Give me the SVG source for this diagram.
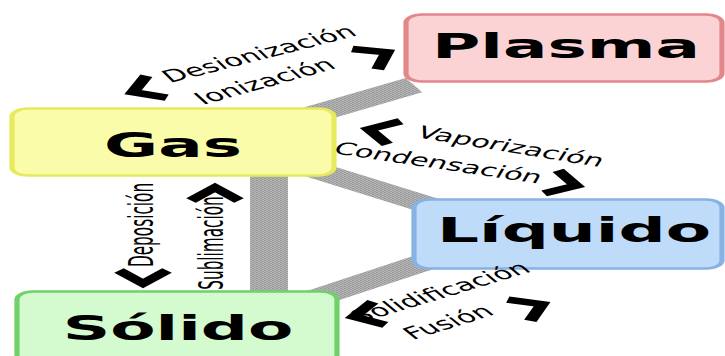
<svg xmlns="http://www.w3.org/2000/svg" xmlns:xlink="http://www.w3.org/1999/xlink" width="725" height="356" viewBox="0 0 725 356">
<style>
.node rect{stroke-width:2.6}
.ntxt{font-family:"DejaVu Sans",Verdana,sans-serif;font-weight:bold;font-size:33px;text-anchor:middle;fill:#000}
.lbl{font-family:"DejaVu Sans Condensed","DejaVu Sans",sans-serif;font-size:17px;fill:#000}
.band{stroke:url(#hatch);fill:none}
</style>
<defs>
<pattern id="hatch" patternUnits="userSpaceOnUse" width="2" height="2">
<rect width="2" height="2" fill="#b4b4b4"/>
<rect width="1" height="1" fill="#999"/>
<rect x="1" y="1" width="1" height="1" fill="#a2a2a2"/>
</pattern>
<path id="chev" d="M-13,-12 L0,0 L-13,12" fill="none" stroke="#000" stroke-width="6.5" stroke-linejoin="miter"/>
</defs>
<rect width="725" height="356" fill="#fff"/>
<g transform="scale(2,1)">
<g id="connectors">
<line class="band" x1="140" y1="124" x2="207" y2="85.2" stroke-width="16.5"/>
<line class="band" x1="150" y1="165.3" x2="215" y2="205.6" stroke-width="16"/>
<line class="band" x1="150" y1="303.2" x2="215" y2="260.3" stroke-width="16.5"/>
<rect x="125" y="170" width="19" height="125" fill="url(#hatch)"/>
</g>
<g id="node-plasma" class="node">
<rect x="203" y="14.5" width="158" height="67" rx="8" ry="8" fill="#fbd3d4" stroke="#e2878b"/>
<text class="ntxt" x="283" y="58">Plasma</text>
</g>
<g id="node-gas" class="node">
<rect x="6" y="108.5" width="161" height="67" rx="8" ry="8" fill="#fafca9" stroke="#e6ea5c"/>
<text class="ntxt" x="86.5" y="157">Gas</text>
</g>
<g id="node-liquido" class="node">
<rect x="207" y="199.5" width="154" height="69" rx="8" ry="8" fill="#bedbf9" stroke="#86b2e4"/>
<text class="ntxt" x="287" y="242">Líquido</text>
</g>
<g id="node-solido" class="node">
<rect x="8.5" y="291.5" width="160" height="72" rx="8" ry="8" fill="#d4fad0" stroke="#70d06a"/>
<text class="ntxt" x="89" y="340">Sólido</text>
</g>
<g id="edge-labels">
<text class="lbl" transform="translate(85,83) rotate(-27)" font-size="17.6">Desionización</text>
<text class="lbl" transform="translate(101.5,105) rotate(-29)" font-size="17.6">Ionización</text>
<text class="lbl" transform="translate(207.5,137) rotate(18)" font-size="17">Vaporización</text>
<text class="lbl" transform="translate(166,153) rotate(16.5)" font-size="17.2">Condensación</text>
<text class="lbl" transform="translate(76.5,225) rotate(-90)" text-anchor="middle" font-size="16.4">Deposición</text>
<text class="lbl" transform="translate(111.5,243) rotate(-90)" text-anchor="middle" font-size="16.2">Sublimación</text>
<text class="lbl" transform="translate(180,323) rotate(-31)" font-size="18.2">Solidificación</text>
<text class="lbl" transform="translate(206.5,340) rotate(-32)" font-size="18">Fusión</text>
<use xlink:href="#chev" transform="translate(66.5,92.2) rotate(155)"/>
<use xlink:href="#chev" transform="translate(193.5,52.3) rotate(-32)"/>
<use xlink:href="#chev" transform="translate(184.5,129.2) rotate(196)"/>
<use xlink:href="#chev" transform="translate(288,185.7) rotate(17)"/>
<use xlink:href="#chev" transform="translate(71.5,283.5) rotate(90)"/>
<use xlink:href="#chev" transform="translate(107.5,187.5) rotate(-90)"/>
<use xlink:href="#chev" transform="translate(177,316.7) rotate(165)"/>
<use xlink:href="#chev" transform="translate(271,304.2) rotate(-28)"/>
</g>
</g>
</svg>
